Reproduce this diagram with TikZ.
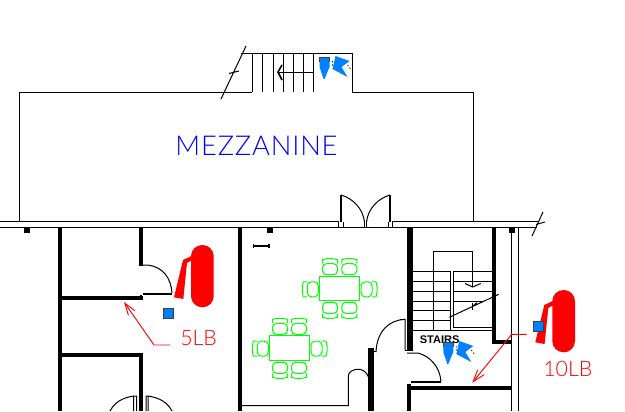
\documentclass[tikz,border=0pt]{standalone}
\usepackage{fontspec}
\usepackage{tikz}
\usetikzlibrary{positioning, arrows.meta, calc}
\setmainfont{Liberation Sans}
\newfontfamily\cadfont[UprightFont={* Light}]{Lato}
\definecolor{signblue}{RGB}{0,128,255}
\definecolor{tableGreen}{RGB}{0,255,0}

\begin{document}
\begin{tikzpicture}[
  x=0.75pt, y=-0.75pt,
  thinline/.style={draw, line width=0.75pt},
  doorleaf/.style={draw, line width=1.2pt},
  wallline/.style={draw, line width=3pt},
  fatwall/.style={draw, line width=4.3pt},
  greenline/.style={draw=tableGreen, line width=0.75pt},
  leaderline/.style={draw=red, line width=0.7pt},
  redlabel/.style={text=red, font=\cadfont\fontsize{16}{16}\selectfont, inner sep=0pt},
  bluebox/.style={draw=black!75, line width=0.8pt, fill=signblue},
  pillar/.style={fill=black},
  chair/.pic={
    \draw[greenline, rounded corners=3pt] (-7.5,0) -- (7.5,0) -- (7.5,-11) -- (-7.5,-11) -- cycle;
    \draw[greenline] (-7.5,-11) -- (-7.5,-15) -- (-3,-16) -- (3,-16) -- (7.5,-15) -- (7.5,-11);
  },
  extinguisher/.pic={
    \fill[red, rounded corners=8.4pt] (191,245) rectangle (213.7,307.3);
    \fill[red] (191.5,256) -- (183,260) -- (174,297.3) -- (183.3,299) -- (187,263)
      -- (192,260) -- cycle;
  },
  exitmark/.pic={
    \fill[signblue] (-5,0) -- (5,0) -- (5,10) -- (0,22) -- (-1,22) -- (-5,10) -- cycle;
    \draw[black!75, line width=0.75pt] (-5,5) -- (-5,0) -- (5,0) -- (5,5);
    \fill[signblue] (11,-1) -- (25,4) -- (17,10) -- (23,20) -- (8,12) -- cycle;
    \draw[line width=0.5pt, dash pattern=on 1pt off 1.5pt] (8,4) -- (8,9) (23,8) -- (26,12);
  }
]
  \useasboundingbox (0,0) rectangle (625,411);

  % Mezzanine outline
  \draw[thinline] (19,222) -- (19,92) -- (252,92) (241,53) -- (352.5,53) -- (352.5,92)
    -- (473.5,92) -- (473.5,222);
  \node[text=blue, font=\cadfont\fontsize{20.5}{20.5}\selectfont, inner sep=0pt] (mezzlabel)
    at (256.5,146) {\addfontfeature{LetterSpace=3}MEZZANINE};

  % Upper stairs
  \foreach \tx in {252,262.5,273,283,293.5,303.5,313.5}
    \draw[thinline] (\tx,53) -- (\tx,92);
  \draw[thinline] (278,72) -- (313.5,72);
  \draw[doorleaf] (282,65) -- (278,72) -- (282,80);
  \draw[thinline] (221,99) -- (246,46) (229,73.5) -- (239,71);
  \pic at (324.5,57) {exitmark};

  % Long outer wall
  \draw[thinline] (0,221.7) -- (338.5,221.7) -- (338.5,227.5)
    (392,227.5) -- (392,221.7) -- (539,221.7)
    (0,227.5) -- (537,227.5);
  \draw[thinline] (532,236) -- (543,212) (536,224.5) -- (545,222);
  \fill[pillar] (24,228) rectangle (30,233);
  \fill[pillar] (267,228) rectangle (273,233);
  \fill[pillar] (509,228) rectangle (515,233);

  % Entrance doors
  \draw[doorleaf] (341,222) -- (341,195) (390,222) -- (390,195);
  \draw[thinline] (341,195) .. controls (352,198) and (363,208) .. (364.5,222);
  \draw[thinline] (390,195) .. controls (379,198) and (368,208) .. (366.5,222);
  \draw[thinline] (343,222) -- (343,227) (364.5,222) -- (364.5,227) (366.5,222) -- (366.5,227)
    (388,222) -- (388,227);

  % Left rooms
  \draw[wallline] (59.5,228) -- (59.5,411);
  \draw[wallline] (141,228) -- (141,266);
  \draw[wallline] (61,298) -- (143,298);
  \draw[wallline] (61,355) -- (141,355) -- (141,411);
  \draw[thinline] (140,265) -- (148,265) .. controls (163,267) and (171,278) .. (172,293);
  \draw[doorleaf] (143,294) -- (172,294);
  \draw[thinline] (140,295) -- (142,295);
  \draw[thinline] (110,411) .. controls (115,402) and (122,398) .. (133.5,396) -- (136.5,396)
    -- (136.5,411) (133.5,396) -- (133.5,411);
  \draw[thinline] (172,411) .. controls (167,402) and (160,398) .. (148,396) -- (146,396)
    -- (146,411) (148,396) -- (148,411);

  % Meeting room
  \draw[wallline] (240,228) -- (240,411);
  \draw[thinline] (242,405.7) -- (348.3,405.7) -- (348.3,375)
    .. controls (350,369) and (364,365) .. (368.5,377);
  \draw[fatwall] (371,348) -- (371,411);
  \draw[fatwall] (410,228) -- (410,351);
  \draw[doorleaf] (253.3,246) -- (268.7,246) (253.3,244) -- (253.3,248) (268.7,244) -- (268.7,248);
  \draw[thinline] (405,350) -- (405,319.3) .. controls (390,320) and (377,330) .. (376,352);
  \draw[thinline] (405,350) -- (413,350) (376,351.5) -- (372,351.5);

  % Tables
  \draw[greenline, line width=1pt] (319.3,276.3) rectangle (359.7,300.7);
  \draw[greenline, line width=1pt] (269.3,335.3) rectangle (309.7,360.7);
  \foreach \cx in {330,349.3} {
    \pic at (\cx,274.7) {chair};
    \pic[rotate=180] at (\cx,302.3) {chair};
  }
  \pic[rotate=90] at (318.3,289.3) {chair};
  \pic[rotate=-90] at (361,289.3) {chair};
  \foreach \cx in {280,299} {
    \pic at (\cx,334.3) {chair};
    \pic[rotate=180] at (\cx,362.3) {chair};
  }
  \pic[rotate=90] at (268.3,348.7) {chair};
  \pic[rotate=-90] at (311,348.7) {chair};

  % Stair core
  \draw[wallline] (494,228) -- (494,341.7) -- (511,341.7);
  \draw[wallline] (407.3,388.3) -- (511,388.3);
  \draw[wallline] (409,384) -- (409,411);
  \draw[thinline] (511,228) -- (511,411) (518.3,228) -- (518.3,411);
  \draw[thinline] (433.3,330) -- (433.3,251.7) -- (472.7,251.7) -- (472.7,287);
  \draw[thinline] (465,283.5) -- (472.7,287) -- (480.7,283.5);
  \foreach \ty in {271.3,281.3,291.3,301.3,310.7,320.7,330}
    \draw[thinline] (412.7,\ty) -- (450.7,\ty);
  \foreach \ty in {271.3,281.3,291.3}
    \draw[thinline] (453.3,\ty) -- (491.5,\ty);
  \draw[thinline] (453.3,301.3) -- (483,301.3);
  \draw[thinline] (450.7,271.3) -- (450.7,330) (453.3,271.3) -- (453.3,327.3)
    -- (491.5,327.3) (450.7,330) -- (491.5,330);
  \draw[thinline] (449.3,317.3) -- (498.7,294.3) (471.7,307.3) -- (476.7,302.7);
  \draw[thinline] (472.7,303) -- (472.7,310);
  \draw[thinline] (404.7,319) -- (400,319);
  \draw[thinline] (407,353) -- (418,353) .. controls (430,356) and (440,367) .. (441,381.7);
  \draw[doorleaf] (411,381.7) -- (441,381.7);
  \node[font=\bfseries\fontsize{8.3}{8.3}\selectfont, inner sep=0pt, anchor=west] (stairlabel)
    at (419.5,340) {STAIRS};
  \pic at (448.3,342) {exitmark};

  % Extinguisher at the small room
  \pic at (0,0) {extinguisher};
  \draw[bluebox] (163.7,308.7) rectangle (173.7,318.3);
  \node[redlabel, anchor=west] (smalllabel) at (180,338) {5LB};
  \coordinate (smalltip) at (124,302);
  \coordinate (smallknee) at (154,345);
  \coordinate (smallend) at (170,345);
  \draw[leaderline, -{Straight Barb[length=9pt,width=6pt]}] (smallend) -- (smallknee) -- (smalltip);

  % Extinguisher at the stair core
  \pic at (361.3,45) {extinguisher};
  \draw[bluebox] (533.7,321.7) rectangle (543.7,331.3);
  \node[redlabel, anchor=west] (largelabel) at (543,369) {10LB};
  \coordinate (largetip) at (472.3,382.7);
  \coordinate (largeknee) at (511.7,334.3);
  \coordinate (largeend) at (526.7,334.3);
  \draw[leaderline, -{Straight Barb[length=9pt,width=6pt]}] (largeend) -- (largeknee) -- (largetip);
\end{tikzpicture}
\end{document}
